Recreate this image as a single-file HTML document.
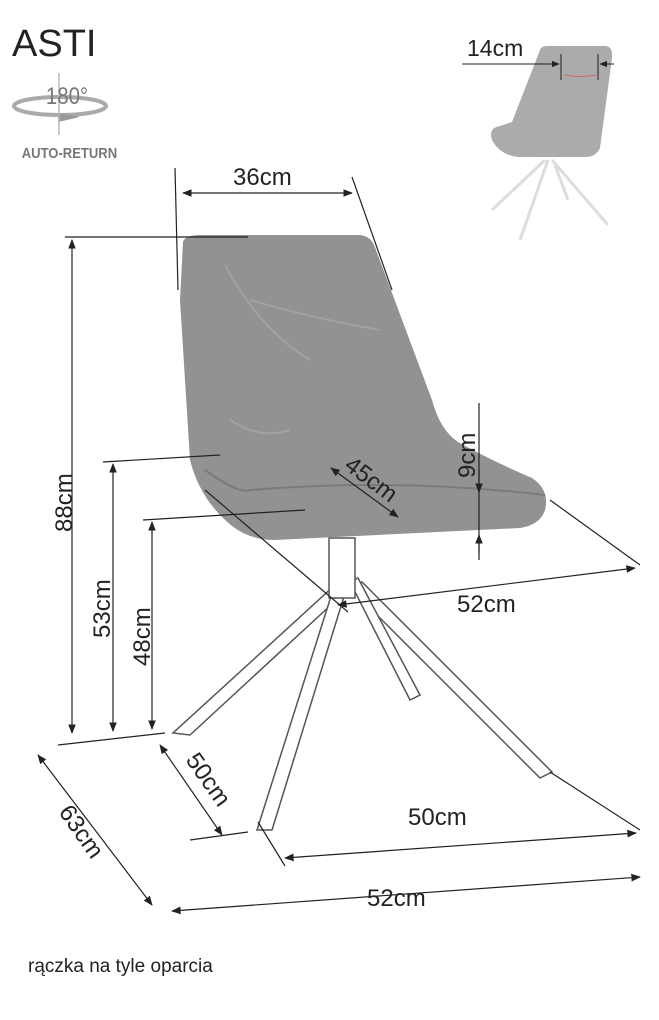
<!DOCTYPE html>
<html><head><meta charset="utf-8"><style>
body{margin:0;background:#fff;width:659px;height:1020px;overflow:hidden}
svg{display:block}
text{font-family:"Liberation Sans",sans-serif;fill:#222}
</style></head><body>
<svg width="659" height="1020" viewBox="0 0 659 1020" xmlns="http://www.w3.org/2000/svg">
<defs>
<marker id="a" viewBox="0 0 10 10" refX="9" refY="5" markerWidth="8" markerHeight="8" orient="auto-start-reverse"><path d="M0,1 L10,5 L0,9 Z" fill="#222"/></marker>
</defs>
<!-- header -->
<text x="12" y="56" font-size="38">ASTI</text>
<ellipse cx="60" cy="106" rx="46" ry="9" fill="none" stroke="#aaa" stroke-width="4"/>
<path d="M58,113 L80,117 L58,122 Z" fill="#999"/>
<line x1="59" y1="73" x2="59" y2="135" stroke="#bbb" stroke-width="1.5"/>
<text x="54" y="104" font-size="24" style="fill:#777" transform="scale(0.85,1)">180°</text>
<text x="25" y="158" font-size="15" font-weight="bold" style="fill:#777" transform="scale(0.87,1)">AUTO-RETURN</text>
<!-- thumbnail -->
<path d="M545,160 L492,210 M548,160 L520,240 M552,160 L608,225 M555,165 L568,200" stroke="#ddd" stroke-width="3" fill="none"/>
<path d="M540,50 Q541,46 548,46 L606,46 Q613,47 612,58 L600,148 Q596,157 585,157 L518,157 Q500,155 492,140 Q488,128 500,126 L512,122 Z" fill="#ababab"/>
<text x="467" y="56" font-size="23">14cm</text>
<line x1="462" y1="64" x2="559" y2="64" stroke="#222" marker-end="url(#a)"/>
<line x1="561" y1="54" x2="561" y2="80" stroke="#222"/>
<line x1="598" y1="54" x2="598" y2="80" stroke="#222"/>
<line x1="614" y1="64" x2="600" y2="64" stroke="#222" marker-end="url(#a)"/>
<path d="M565,75 Q580,78 596,75" stroke="#c66" fill="none"/>
<!-- chair legs -->
<g fill="#fff" stroke="#555" stroke-width="1.5">
<path d="M352,590 L362,582 L552,772 L540,778 Z"/>
<path d="M350,582 L358,578 L420,695 L410,700 Z"/>
<path d="M335,585 L345,592 L190,735 L173,733 Z"/>
<path d="M333,590 L346,590 L272,830 L257,830 Z"/>
<rect x="329" y="538" width="26" height="60"/>
</g>
<!-- chair body -->
<path d="M183,242 Q185,235 200,235 L360,235 Q372,236 376,250 L432,400 Q440,430 458,442 Q490,460 532,478 Q550,490 545,510 Q540,525 520,528 L275,540 Q250,540 232,526 Q200,500 190,460 L180,300 Z" fill="#929292"/>
<path d="M205,470 Q240,495 250,490 Q400,478 545,495" stroke="#7a7a7a" fill="none" stroke-width="2"/>
<path d="M225,265 Q260,330 310,360 M250,300 Q320,320 380,330 M230,420 Q260,440 290,430" stroke="#a2a2a2" fill="none" stroke-width="2"/>
<!-- dimension lines -->
<g stroke="#222" stroke-width="1.2" fill="none">
<line x1="65" y1="237" x2="248" y2="237"/>
<line x1="72" y1="240" x2="72" y2="733" marker-start="url(#a)" marker-end="url(#a)"/>
<line x1="58" y1="745" x2="165" y2="733"/>
<line x1="103" y1="462" x2="220" y2="455"/>
<line x1="113" y1="464" x2="113" y2="731" marker-start="url(#a)" marker-end="url(#a)"/>
<line x1="143" y1="520" x2="305" y2="510"/>
<line x1="152" y1="522" x2="152" y2="729" marker-start="url(#a)" marker-end="url(#a)"/>
<line x1="175" y1="168" x2="178" y2="290"/>
<line x1="352" y1="177" x2="392" y2="290"/>
<line x1="183" y1="193" x2="352" y2="193" marker-start="url(#a)" marker-end="url(#a)"/>
<line x1="479" y1="403" x2="479" y2="553"/>
<line x1="479" y1="470" x2="479" y2="492" marker-end="url(#a)"/>
<line x1="479" y1="560" x2="479" y2="535" marker-end="url(#a)"/>
<line x1="331" y1="468" x2="398" y2="517" marker-start="url(#a)" marker-end="url(#a)"/>
<line x1="205" y1="490" x2="348" y2="612"/>
<line x1="550" y1="500" x2="640" y2="565"/>
<line x1="338" y1="605" x2="635" y2="568" marker-start="url(#a)" marker-end="url(#a)"/>
<line x1="160" y1="745" x2="222" y2="835" marker-start="url(#a)" marker-end="url(#a)"/>
<line x1="190" y1="840" x2="248" y2="832"/>
<line x1="258" y1="822" x2="285" y2="866"/>
<line x1="550" y1="772" x2="640" y2="830"/>
<line x1="285" y1="858" x2="636" y2="833" marker-start="url(#a)" marker-end="url(#a)"/>
<line x1="38" y1="755" x2="152" y2="905" marker-start="url(#a)" marker-end="url(#a)"/>
<line x1="172" y1="911" x2="640" y2="877" marker-start="url(#a)" marker-end="url(#a)"/>
</g>
<g font-size="24">
<text x="233" y="185">36cm</text>
<text transform="translate(72,532) rotate(-90)">88cm</text>
<text transform="translate(110,638) rotate(-90)">53cm</text>
<text transform="translate(150,666) rotate(-90)">48cm</text>
<text transform="translate(475,478) rotate(-90)">9cm</text>
<text transform="translate(343,468) rotate(37)">45cm</text>
<text x="457" y="612">52cm</text>
<text transform="translate(185,760) rotate(55)">50cm</text>
<text x="408" y="825">50cm</text>
<text transform="translate(58,812) rotate(55)">63cm</text>
<text x="367" y="906">52cm</text>
</g>
<text x="28" y="972" font-size="19">rączka na tyle oparcia</text>
</svg>
</body></html>
